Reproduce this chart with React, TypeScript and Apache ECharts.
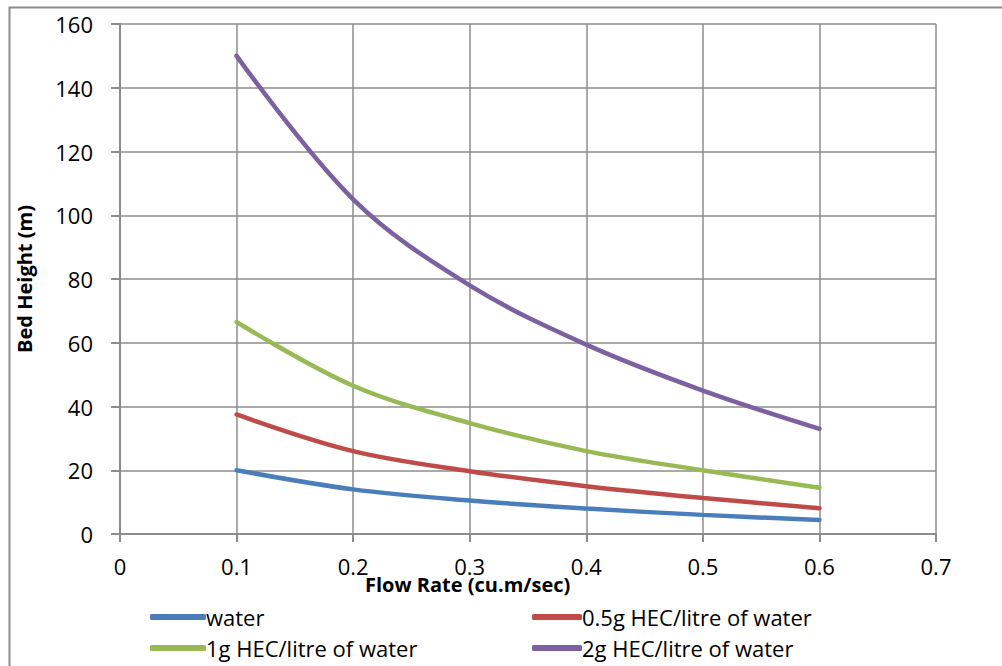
import React, { useEffect, useRef } from "react";
import * as echarts from "echarts";

const flowRates = [0.1, 0.2, 0.3, 0.4, 0.5, 0.6];
const seriesNames = [
  "water",
  "0.5g HEC/litre of water",
  "1g HEC/litre of water",
  "2g HEC/litre of water",
];
const water = [20, 14, 10.5, 8, 6, 4.4];
const hec05 = [37.5, 26, 19.7, 15, 11.3, 8.1];
const hec1 = [66.5, 46.5, 34.8, 26, 20, 14.5];
const hec2 = [150, 105, 78, 59.4, 45, 33];
const colors = ["#4A7EBB", "#BE4B48", "#98B954", "#7D60A0"];
const xTitle = "Flow Rate (cu.m/sec)";
const yTitle = "Bed Height (m)";

const FONT = "Open Sans";

export default function App() {
  const ref = useRef<HTMLDivElement>(null);
  useEffect(() => {
    if (!ref.current) return;
    const chart = echarts.init(ref.current, null, { renderer: "svg" });
    const allData = [water, hec05, hec1, hec2];
    const gridColor = "#8c8c8c";
    chart.setOption({
      animation: false,
      backgroundColor: "#ffffff",
      grid: { left: 120, right: 66, top: 24, bottom: 132, containLabel: false },
      xAxis: {
        type: "value",
        min: 0,
        max: 0.7,
        interval: 0.1,
        axisLine: { show: true, lineStyle: { color: gridColor, width: 2 } },
        axisTick: { show: true, length: 8, lineStyle: { color: gridColor, width: 2 } },
        splitLine: { show: true, lineStyle: { color: gridColor, width: 1.5 } },
        axisLabel: {
          color: "#000",
          fontFamily: FONT,
          fontSize: 22,
          margin: 21,
          formatter: (v: number) => String(Math.round(v * 10) / 10),
        },
      },
      yAxis: {
        type: "value",
        min: 0,
        max: 160,
        interval: 20,
        name: yTitle,
        nameLocation: "middle",
        nameGap: 86,
        nameTextStyle: { color: "#000", fontFamily: FONT, fontSize: 20, fontWeight: "bold" },
        axisLine: { show: true, lineStyle: { color: gridColor, width: 2 } },
        axisTick: { show: true, length: 9, lineStyle: { color: gridColor, width: 2 } },
        splitLine: { show: true, lineStyle: { color: gridColor, width: 1.5 } },
        axisLabel: { color: "#000", fontFamily: FONT, fontSize: 22, margin: 27 },
      },
      legend: [
        {
          left: 145,
          top: 601,
          orient: "vertical",
          itemGap: 9,
          itemWidth: 56,
          itemHeight: 6,
          icon: "roundRect",
          data: [seriesNames[0], seriesNames[2]],
          textStyle: { color: "#000", fontFamily: FONT, fontSize: 22, padding: [0, 0, 0, -5] },
        },
        {
          left: 527,
          top: 601,
          orient: "vertical",
          itemGap: 9,
          itemWidth: 50,
          itemHeight: 6,
          icon: "roundRect",
          data: [seriesNames[1], seriesNames[3]],
          textStyle: { color: "#000", fontFamily: FONT, fontSize: 22, padding: [0, 0, 0, -5] },
        },
      ],
      graphic: [
        {
          type: "rect",
          shape: { x: 9.5, y: 7.5, width: 1100, height: 800 },
          style: { fill: "none", stroke: "#8c8c8c", lineWidth: 2 },
          silent: true,
        },
        {
          type: "text",
          left: 365,
          top: 574,
          style: { text: xTitle, fill: "#000", font: `bold 20px ${FONT}` },
          z: 10,
        },
      ],
      series: seriesNames.map((name, i) => ({
        name,
        type: "line",
        smooth: 0.35,
        showSymbol: false,
        symbol: "none",
        color: colors[i],
        lineStyle: { width: 4.5, color: colors[i], cap: "round" },
        data: flowRates.map((x, j) => [x, allData[i][j]]),
      })),
    });
    return () => chart.dispose();
  }, []);
  return (
    <div
      ref={ref}
      style={{ position: "fixed", left: 0, top: 0, width: 1002, height: 666 }}
    />
  );
}
